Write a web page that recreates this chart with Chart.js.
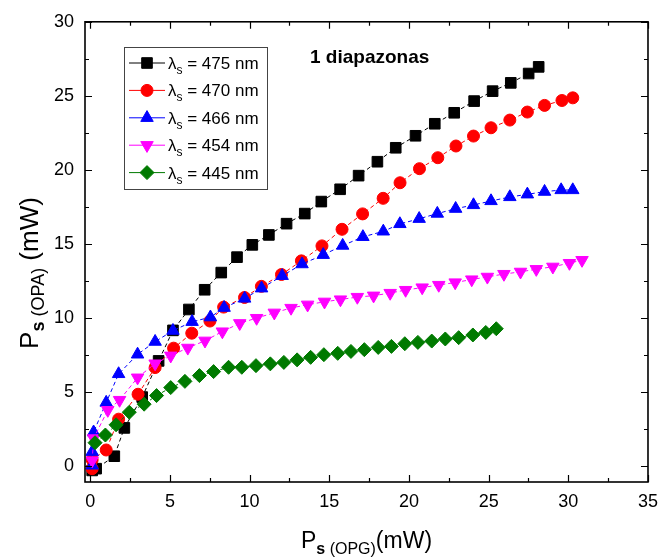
<!DOCTYPE html>
<html>
<head>
<meta charset="utf-8">
<script src="https://cdn.jsdelivr.net/npm/chart.js@4.4.1/dist/chart.umd.min.js"></script>
<style>
html, body { margin: 0; padding: 0; background: #fff; }
</style>
</head>
<body>
<canvas id="c" width="667" height="560"></canvas>
<script>
// signal power after OPA vs OPG signal power, 5 wavelengths
var wavelengths = ['475', '470', '466', '454', '445'];

var x475 = [0.12, 0.37, 1.51, 2.14, 3.26, 4.29, 5.19, 6.19, 7.18, 8.22, 9.21, 10.17, 11.21, 12.32, 13.46, 14.5, 15.68, 16.84, 18.02, 19.17, 20.41, 21.62, 22.84, 24.09, 25.25, 26.39, 27.51, 28.14];
var y475 = [-0.27, -0.15, 0.69, 2.6, 4.68, 7.12, 9.18, 10.59, 11.92, 13.08, 14.12, 14.95, 15.62, 16.38, 17.06, 17.87, 18.7, 19.62, 20.56, 21.5, 22.31, 23.12, 23.86, 24.65, 25.32, 25.88, 26.51, 26.96];

var x470 = [0.12, 0.12, 1.0, 1.78, 3.0, 4.07, 5.23, 6.37, 7.51, 8.37, 9.68, 10.74, 12.0, 13.25, 14.54, 15.8, 17.09, 18.38, 19.44, 20.66, 21.81, 22.95, 24.05, 25.15, 26.33, 27.43, 28.51, 29.6, 30.28];
var y470 = [-0.15, 0.45, 1.11, 3.19, 4.87, 6.67, 7.98, 8.99, 9.81, 10.75, 11.4, 12.15, 12.95, 13.87, 14.88, 16.0, 17.04, 18.09, 19.14, 20.09, 20.83, 21.62, 22.29, 22.85, 23.37, 23.91, 24.36, 24.69, 24.87];

var x466 = [0.12, 0.12, 0.21, 1.0, 1.78, 2.97, 4.07, 5.19, 6.39, 7.54, 8.4, 9.69, 10.75, 12.04, 13.29, 14.62, 15.84, 17.11, 18.39, 19.43, 20.64, 21.78, 22.93, 24.05, 25.15, 26.33, 27.43, 28.51, 29.55, 30.28];
var y466 = [0.07, 0.99, 2.31, 4.31, 6.24, 7.56, 8.42, 9.16, 9.76, 10.07, 10.71, 11.33, 12.02, 12.86, 13.65, 14.28, 14.9, 15.49, 15.86, 16.36, 16.71, 17.06, 17.39, 17.64, 17.91, 18.18, 18.36, 18.54, 18.65, 18.65];

var x454 = [0.12, 0.21, 1.1, 1.84, 2.97, 4.07, 5.05, 6.12, 7.2, 8.29, 9.38, 10.44, 11.55, 12.6, 13.64, 14.7, 15.7, 16.76, 17.78, 18.82, 19.79, 20.83, 21.87, 22.9, 23.94, 24.92, 25.96, 27.0, 27.99, 29.03, 30.07, 30.86];
var y454 = [0.4, 1.89, 3.8, 4.48, 5.99, 6.94, 7.47, 8.0, 8.48, 9.1, 9.66, 10.01, 10.37, 10.69, 10.91, 11.11, 11.26, 11.43, 11.52, 11.7, 11.9, 12.07, 12.24, 12.41, 12.61, 12.79, 12.98, 13.13, 13.31, 13.47, 13.72, 13.92];

var x445 = [0.3, 0.95, 1.62, 2.45, 3.38, 4.16, 5.05, 5.94, 6.85, 7.74, 8.68, 9.51, 10.4, 11.3, 12.15, 12.98, 13.83, 14.66, 15.53, 16.36, 17.2, 18.07, 18.9, 19.74, 20.56, 21.43, 22.28, 23.12, 24.01, 24.82, 25.48];
var y445 = [1.6, 2.12, 2.81, 3.66, 4.2, 4.78, 5.32, 5.74, 6.13, 6.4, 6.69, 6.69, 6.8, 6.92, 7.02, 7.19, 7.36, 7.54, 7.63, 7.76, 7.88, 8.03, 8.1, 8.28, 8.37, 8.46, 8.6, 8.69, 8.87, 9.04, 9.29];

var xTicks = [0, 5, 10, 15, 20, 25, 30, 35];
var yTicks = [0, 5, 10, 15, 20, 25, 30];

var FONT = '"Liberation Sans", Arial, sans-serif';

function pts(xs, ys) {
  return xs.map(function (v, i) { return { x: v, y: ys[i] }; });
}

function series(label, xs, ys, color, style, radius, rotation, order) {
  return {
    label: label,
    data: pts(xs, ys),
    showLine: true,
    borderColor: color,
    backgroundColor: color,
    borderWidth: 1,
    borderDash: [4, 3],
    pointStyle: style,
    pointRadius: radius,
    pointHoverRadius: radius,
    pointRotation: rotation,
    pointBackgroundColor: color,
    pointBorderColor: color,
    pointBorderWidth: 1,
    order: order
  };
}

var datasets = [
  series(wavelengths[0], x475, y475, '#000000', 'rect', 7.5, 0, 5),
  series(wavelengths[1], x470, y470, '#ff0000', 'circle', 6, 0, 4),
  series(wavelengths[2], x466, y466, '#0000ff', 'triangle', 7.2, 0, 3),
  series(wavelengths[3], x454, y454, '#ff00ff', 'triangle', 7.2, 180, 2),
  series(wavelengths[4], x445, y445, '#007a00', 'rectRot', 7, 0, 1)
];

// frame on all four sides with inward ticks
var frameTicks = {
  id: 'frameTicks',
  afterDraw: function (chart) {
    var ctx = chart.ctx, a = chart.chartArea;
    var xs = chart.scales.x, ys = chart.scales.y;
    ctx.save();
    ctx.strokeStyle = '#000';
    ctx.lineWidth = 1.2;
    ctx.beginPath();
    xs.ticks.forEach(function (t) {
      var px = Math.round(xs.getPixelForValue(t.value)) + 0.5;
      var len = t.value % 5 === 0 ? 7 : 4;
      ctx.moveTo(px, a.bottom); ctx.lineTo(px, a.bottom - len);
      ctx.moveTo(px, a.top); ctx.lineTo(px, a.top + len);
    });
    ys.ticks.forEach(function (t) {
      var py = Math.round(ys.getPixelForValue(t.value)) + 0.5;
      var len = t.value % 5 === 0 ? 7 : 4;
      ctx.moveTo(a.left, py); ctx.lineTo(a.left + len, py);
      ctx.moveTo(a.right, py); ctx.lineTo(a.right - len, py);
    });
    ctx.stroke();
    ctx.lineWidth = 1.6;
    ctx.strokeRect(a.left, a.top, a.right - a.left, a.bottom - a.top);
    ctx.restore();
  }
};

// draws text runs with subscripts, returns the total width
function runs(ctx, parts, x, y, draw) {
  var w = 0;
  parts.forEach(function (p) {
    ctx.font = p.font;
    if (draw) ctx.fillText(p.t, x + w, y + (p.dy || 0));
    w += ctx.measureText(p.t).width;
  });
  return w;
}

var labels = {
  id: 'labels',
  afterDraw: function (chart) {
    var ctx = chart.ctx, a = chart.chartArea;
    ctx.save();
    ctx.fillStyle = '#000';
    ctx.textBaseline = 'alphabetic';
    ctx.textAlign = 'left';

    // x title
    var xp = [
      { t: 'P', font: '23px ' + FONT },
      { t: 's', font: 'bold 16px ' + FONT, dy: 6 },
      { t: ' (OPG)', font: '16px ' + FONT, dy: 6 },
      { t: '(mW)', font: '23px ' + FONT }
    ];
    var w = runs(ctx, xp, 0, 0, false);
    runs(ctx, xp, (a.left + a.right) / 2 - w / 2, 548, true);

    // y title
    var yp = [
      { t: 'P', font: '26px ' + FONT },
      { t: 's', font: 'bold 18px ' + FONT, dy: 6 },
      { t: ' (OPA)', font: '18px ' + FONT, dy: 6 },
      { t: ' (mW)', font: '26px ' + FONT }
    ];
    w = runs(ctx, yp, 0, 0, false);
    ctx.save();
    ctx.translate(38, 273);
    ctx.rotate(-Math.PI / 2);
    runs(ctx, yp, -w / 2, 0, true);
    ctx.restore();

    // annotation
    ctx.font = 'bold 19px ' + FONT;
    ctx.fillText('1 diapazonas', 310, 63);

    // legend box
    ctx.strokeStyle = '#444';
    ctx.lineWidth = 1;
    ctx.strokeRect(124.5, 47.5, 143, 142);
    chart.data.datasets.forEach(function (ds, i) {
      var y = 63 + i * 27.4;
      ctx.save();
      ctx.strokeStyle = ds.borderColor;
      ctx.lineWidth = 1;
      ctx.beginPath();
      ctx.moveTo(129, y); ctx.lineTo(165, y);
      ctx.stroke();
      ctx.fillStyle = ds.pointBackgroundColor;
      ctx.strokeStyle = ds.pointBorderColor;
      Chart.helpers.drawPoint(ctx, {
        pointStyle: ds.pointStyle,
        radius: ds.pointRadius,
        rotation: ds.pointRotation,
        borderWidth: 1
      }, 147, y);
      ctx.restore();
      runs(ctx, [
        { t: '\u03bb', font: '17px ' + FONT },
        { t: 's', font: '12px ' + FONT, dy: 5 },
        { t: ' = ' + ds.label + ' nm', font: '17px ' + FONT }
      ], 168, y + 6, true);
    });
    ctx.restore();
  }
};

new Chart(document.getElementById('c'), {
  type: 'scatter',
  data: { datasets: datasets },
  options: {
    responsive: false,
    animation: false,
    events: [],
    layout: { padding: { left: 0, right: 15, top: 20, bottom: 0 } },
    plugins: {
      legend: { display: false },
      tooltip: { enabled: false }
    },
    scales: {
      x: {
        type: 'linear',
        min: -0.33,
        max: 35,
        grid: { display: false, drawTicks: false },
        border: { display: false },
        afterFit: function (s) { s.height = 78; },
        ticks: {
          stepSize: 2.5,
          includeBounds: false,
          autoSkip: false,
          maxRotation: 0,
          padding: 9,
          color: '#000',
          font: { family: FONT, size: 18 },
          callback: function (v) { return xTicks.indexOf(v) >= 0 ? String(v) : ''; }
        }
      },
      y: {
        type: 'linear',
        min: -1.05,
        max: 30,
        grid: { display: false, drawTicks: false },
        border: { display: false },
        afterFit: function (s) { s.width = 85; },
        ticks: {
          stepSize: 2.5,
          includeBounds: false,
          autoSkip: false,
          padding: 11,
          color: '#000',
          font: { family: FONT, size: 18 },
          callback: function (v) { return yTicks.indexOf(v) >= 0 ? String(v) : ''; }
        }
      }
    }
  },
  plugins: [frameTicks, labels]
});
</script>
</body>
</html>
